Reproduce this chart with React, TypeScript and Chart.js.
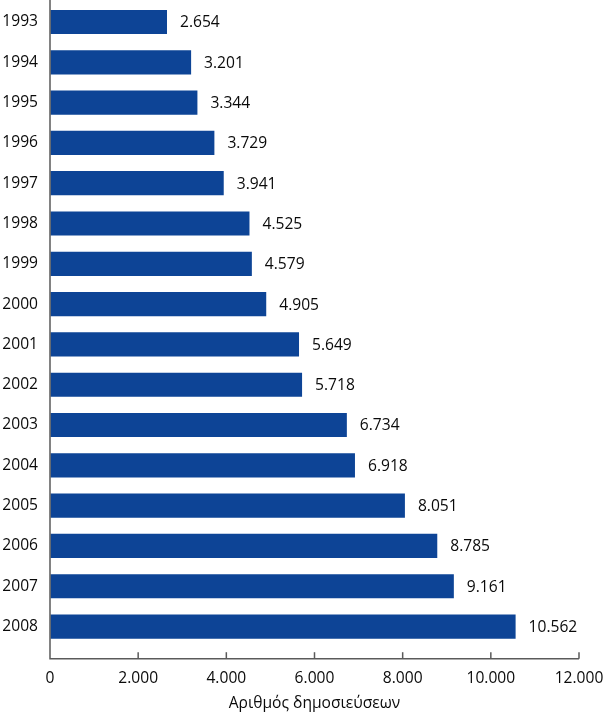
import React, { useEffect, useRef } from "react";
import { Chart, registerables } from "chart.js";

Chart.register(...registerables);

const years = ["1993","1994","1995","1996","1997","1998","1999","2000","2001","2002","2003","2004","2005","2006","2007","2008"];
const publications = [2654, 3201, 3344, 3729, 3941, 4525, 4579, 4905, 5649, 5718, 6734, 6918, 8051, 8785, 9161, 10562];
const xTitle = "Αριθμός δημοσιεύσεων";
const xMax = 12000;
const xStep = 2000;

const FONT = "'Open Sans', 'Noto Sans', sans-serif";
const FS = 15.6;
const BAR = "#0d4496";
const AXIS = "#5a5a5a";
const TEXT = "#0a0a0a";

const fmt = (v: number) => {
  const s = Math.round(v).toString();
  return s.replace(/\B(?=(\d{3})+(?!\d))/g, ".");
};

const axisPlugin = {
  id: "customAxis",
  afterDatasetsDraw(chart: any) {
    const { ctx, chartArea } = chart;
    const xs = chart.scales.x;
    const axisY = chartArea.bottom + 12;
    const left = xs.getPixelForValue(0);
    ctx.save();
    ctx.strokeStyle = AXIS;
    ctx.lineWidth = 1.5;
    ctx.beginPath();
    ctx.moveTo(left, 0);
    ctx.lineTo(left, axisY);
    ctx.lineTo(xs.getPixelForValue(xMax), axisY);
    ctx.stroke();
    xs.ticks.forEach((t: any) => {
      if (t.value === 0) return;
      const px = xs.getPixelForValue(t.value);
      ctx.beginPath();
      ctx.moveTo(px, axisY - 6.5);
      ctx.lineTo(px, axisY);
      ctx.stroke();
    });
    const meta = chart.getDatasetMeta(0);
    ctx.fillStyle = TEXT;
    ctx.font = `${FS}px ${FONT}`;
    ctx.textAlign = "left";
    ctx.textBaseline = "middle";
    meta.data.forEach((bar: any, i: number) => {
      ctx.fillText(fmt(publications[i]), bar.x + 13, bar.y + 1);
    });
    ctx.restore();
  },
};

export default function App() {
  const ref = useRef<HTMLCanvasElement | null>(null);
  useEffect(() => {
    document.body.style.margin = "0";
    const chart = new Chart(ref.current as HTMLCanvasElement, {
      type: "bar",
      data: {
        labels: years,
        datasets: [
          {
            data: publications,
            backgroundColor: BAR,
            borderWidth: 0,
            barPercentage: 0.6,
            categoryPercentage: 1,
          },
        ],
      },
      options: {
        indexAxis: "y",
        animation: false,
        responsive: false,
        layout: { padding: { top: 1.85, right: 29, left: 0, bottom: 0 } },
        plugins: { legend: { display: false }, tooltip: { enabled: false } },
        scales: {
          x: {
            min: 0,
            max: xMax,
            grid: { display: true, drawOnChartArea: false, drawTicks: true, tickLength: 22, color: "rgba(0,0,0,0)" },
            border: { display: false },
            ticks: {
              stepSize: xStep,
              padding: 0,
              color: TEXT,
              font: { family: FONT, size: FS },
              callback: (v: any) => fmt(Number(v)),
              maxRotation: 0,
            },
            title: {
              display: true,
              text: xTitle,
              color: TEXT,
              font: { family: FONT, size: FS },
              padding: { top: 0, bottom: 0 },
            },
            afterFit: (s: any) => {
              s.height = 66.3;
            },
          },
          y: {
            grid: { display: true, drawOnChartArea: false, drawTicks: true, tickLength: 12, color: "rgba(0,0,0,0)" },
            border: { display: false },
            ticks: {
              padding: 0,
              color: TEXT,
              font: { family: FONT, size: FS, lineHeight: 0.2 },
            },
            afterFit: (s: any) => {
              s.width = 50;
            },
          },
        },
      },
      plugins: [axisPlugin],
    });
    return () => chart.destroy();
  }, []);
  return (
    <div style={{ width: 608, height: 713 }}>
      <canvas ref={ref} width={608} height={713} />
    </div>
  );
}
